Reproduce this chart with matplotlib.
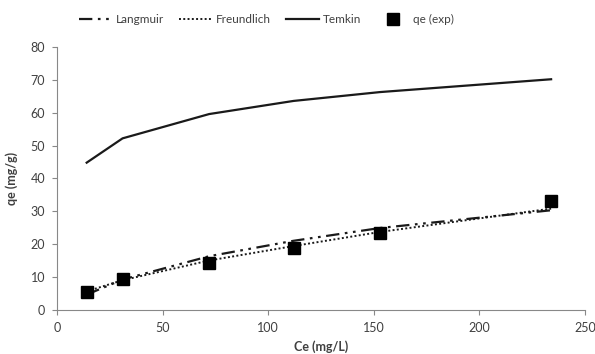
import matplotlib
matplotlib.use("Agg")
import matplotlib.pyplot as plt

# Equilibrium concentrations (mg/L)
ce = [14, 31, 72, 112, 153, 234]
# Experimental uptake (mg/g)
qe_exp = [5.5, 9.4, 14.1, 18.9, 23.5, 33.1]
# Isotherm model predictions (mg/g)
langmuir = [4.6, 9.2, 16.3, 21.0, 24.9, 30.3]
freundlich = [5.6, 9.0, 15.0, 19.4, 23.7, 30.8]
temkin = [44.8, 52.2, 59.6, 63.6, 66.3, 70.2]

x_ticks = [0, 50, 100, 150, 200, 250]
y_ticks = [0, 10, 20, 30, 40, 50, 60, 70, 80]

plt.rcParams['font.family'] = ['Lato', 'DejaVu Sans']

fig = plt.figure(figsize=(5.95, 3.54), dpi=100)
ax = fig.add_axes([0.096, 0.125, 0.887, 0.742])

ax.plot(ce, langmuir, color='#1a1a1a', lw=1.6, dashes=(6, 2.5, 1.2, 2.5, 1.2, 2.5), label='Langmuir')
ax.plot(ce, freundlich, color='#1a1a1a', lw=1.4, linestyle=(0, (1, 1.2)), label='Freundlich')
ax.plot(ce, temkin, color='#1a1a1a', lw=1.6, label='Temkin')
ax.plot(ce, qe_exp, linestyle='none', marker='s', markersize=8, color='black', label='qe (exp)')

ax.set_xlim(0, 250)
ax.set_ylim(0, 80)
ax.set_xticks(x_ticks)
ax.set_yticks(y_ticks)
ax.tick_params(axis='both', labelsize=9, colors='#888888', labelcolor='#404040',
               length=3.5, direction='out', width=0.8, pad=5)

for side in ('top', 'right'):
    ax.spines[side].set_visible(False)
for side in ('left', 'bottom'):
    ax.spines[side].set_color('#888888')
    ax.spines[side].set_linewidth(0.8)

ax.set_xlabel('Ce (mg/L)', fontsize=9, fontweight='bold', color='#404040', labelpad=5)
ax.set_ylabel('qe (mg/g)', fontsize=9, fontweight='bold', color='#404040', labelpad=9)

fig.legend(loc='upper center', bbox_to_anchor=(0.448, 0.99), ncol=4, frameon=False,
           fontsize=8.5, handlelength=2.8, handletextpad=0.3, columnspacing=1.3,
           labelcolor='#404040')

fig.savefig('out.png', dpi=100)
